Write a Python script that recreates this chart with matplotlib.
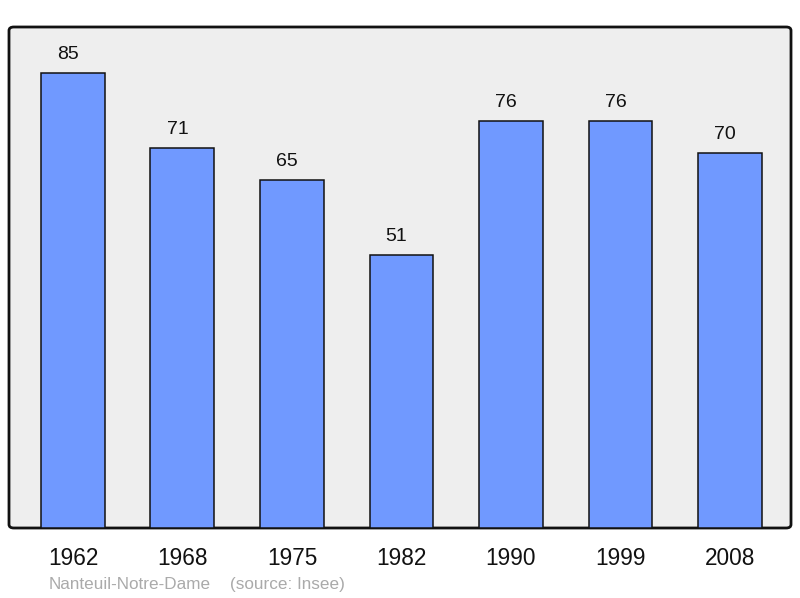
#!/usr/bin/env python3

import matplotlib
matplotlib.use("Agg")
import matplotlib.pyplot as plt
from matplotlib.patches import FancyBboxPatch

years = ["1962", "1968", "1975", "1982", "1990", "1999", "2008"]
population = [85, 71, 65, 51, 76, 76, 70]
commune = "Nanteuil-Notre-Dame"
source = "(source: Insee)"

plt.rcParams["font.family"] = ["Liberation Sans", "DejaVu Sans"]


def main():
    fig = plt.figure(figsize=(8.0, 5.98), dpi=100)
    left, bottom = 9 / 800, 70 / 598
    width, height = 782 / 800, 501 / 598

    # rounded grey frame behind the axes
    frame = FancyBboxPatch((left, bottom), width, height,
                           boxstyle="round,pad=0,rounding_size=0.006",
                           transform=fig.transFigure, facecolor="#eeeeee",
                           edgecolor="#111111", linewidth=2, zorder=-5)
    fig.patches.append(frame)

    ax = fig.add_axes([left, bottom, width, height])
    ax.set_zorder(1)
    ax.patch.set_visible(False)
    for spine in ax.spines.values():
        spine.set_visible(False)

    x = list(range(len(years)))
    bars = ax.bar(x, population, width=0.584, color="#7099ff",
                  edgecolor="#111111", linewidth=1.1, zorder=2)
    for bar, val in zip(bars, population):
        ax.annotate(str(val), (bar.get_x() + bar.get_width() / 2, val),
                    xytext=(-5, 10), textcoords="offset pixels",
                    ha="center", va="bottom", fontsize=14, color="#111111")

    ax.set_xlim(-0.584, 6.557)
    ax.set_ylim(0, 93.6)
    ax.set_yticks([])
    ax.set_xticks(x)
    ax.set_xticklabels(years, fontsize=16.3, color="#111111")
    ax.tick_params(axis="x", length=0, pad=14)

    fig.text(49 / 800, 1 - 589 / 598, commune, fontsize=12.3,
             color="#aaaaaa", ha="left", va="baseline")
    fig.text(230 / 800, 1 - 589 / 598, source, fontsize=12.3,
             color="#aaaaaa", ha="left", va="baseline")

    fig.savefig("out.png", dpi=100)


if __name__ == "__main__":
    main()
